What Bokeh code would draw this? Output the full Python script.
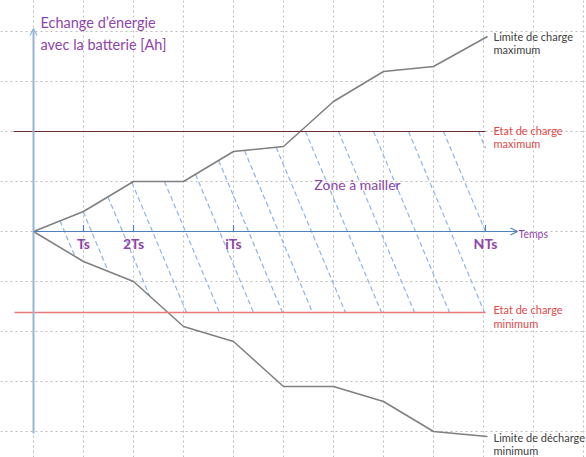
import numpy as np
from bokeh.plotting import figure
from bokeh.models import Arrow, OpenHead, Grid, FixedTicker, Range1d
from bokeh.core.properties import value
from bokeh.embed import file_html
from bokeh.resources import INLINE

# ---- data (time in units of Ts, energy in grid units) ----
t_steps = [0, 1, 2, 3, 4, 5, 6, 7, 8, 9.08]
limite_charge_max = [0, 0.4, 1.0, 1.0, 1.6, 1.7, 2.6, 3.2, 3.3, 3.9]
limite_decharge_min = [0, -0.6, -1.0, -1.9, -2.2, -3.1, -3.1, -3.4, -4.0, -4.1]
etat_charge_max = 2.0
etat_charge_min = -1.62
t_end = 9.04
tick_pos = [1, 2, 4, 9.04]
tick_labels = ["Ts", "2Ts", "iTs", "NTs"]
hatch_cross = [0.62, 1.16, 1.78, 2.38, 3.04, 3.72, 4.3, 4.9, 5.56, 6.28,
               6.94, 7.64, 8.34, 9.04, 9.74]
hatch_slope = 0.42
grid_x = list(range(0, 12))
grid_y = list(range(-4, 5))

PURPLE = "#8e44ad"
RED = "#e04848"
FONT = value("Lato")

p = figure(width=586, height=457, output_backend="svg", toolbar_location=None,
           x_range=Range1d(-0.66, 11.06), y_range=Range1d(-4.52, 4.62),
           x_axis_type=None, y_axis_type=None, min_border=0,
           outline_line_color=None)

for dim, ticks in ((0, grid_x), (1, grid_y)):
    p.add_layout(Grid(dimension=dim, ticker=FixedTicker(ticks=ticks),
                      grid_line_color="#bdbdbd", grid_line_dash="2 3",
                      grid_line_width=1))

# hatching of the zone
ys = np.linspace(-5, 5, 10001)
hx0, hy0, hx1, hy1 = [], [], [], []
for c in hatch_cross:
    x = c - hatch_slope * ys
    top = np.minimum(np.interp(x, t_steps, limite_charge_max), etat_charge_max)
    bot = np.maximum(np.interp(x, t_steps, limite_decharge_min), etat_charge_min)
    m = (ys <= top) & (ys >= bot) & (x >= 0) & (x <= t_end)
    if m.any():
        ya, yb = ys[m].max(), ys[m].min()
        hx0.append(c - hatch_slope * ya); hy0.append(ya)
        hx1.append(c - hatch_slope * yb); hy1.append(yb)
p.segment(hx0, hy0, hx1, hy1, line_color="#8db3e2", line_width=1.2,
          line_dash="5 3")

p.line(t_steps, limite_charge_max, line_color="#7f7f7f", line_width=1.5)
p.line(t_steps, limite_decharge_min, line_color="#7f7f7f", line_width=1.5)

p.segment([-0.4], [etat_charge_max], [t_end], [etat_charge_max],
          line_color="#6a3030", line_width=1)
p.segment([-0.38], [etat_charge_min], [t_end], [etat_charge_min],
          line_color="#ea7a7a", line_width=1.6)

# axes
p.add_layout(Arrow(x_start=0, y_start=-4.04, x_end=0, y_end=4.06,
                   line_color="#95b3d7", line_width=2,
                   end=OpenHead(size=7, line_color="#95b3d7", line_width=1.2)))
p.add_layout(Arrow(x_start=0, y_start=0, x_end=9.68, y_end=0,
                   line_color="#4f81bd", line_width=1.2,
                   end=OpenHead(size=7, line_color="#4f81bd", line_width=1.2)))
p.segment(tick_pos, [0] * len(tick_pos), tick_pos, [0.13] * len(tick_pos),
          line_color="#4f81bd", line_width=1.2)

p.text(tick_pos, [-0.24] * len(tick_pos), text=tick_labels, text_font=FONT,
       text_font_size="14px", text_color=PURPLE, text_align="center",
       text_baseline="middle", text_font_style="bold")
p.text([9.7], [-0.04], text=["Temps"], text_font=FONT, text_font_size="10.5px",
       text_color=PURPLE, text_align="left", text_baseline="middle")
p.text([6.48], [0.94], text=["Zone à mailler"], text_font=FONT,
       text_font_size="14px", text_color=PURPLE, text_align="center",
       text_baseline="middle")
p.text([0.14, 0.14], [4.18, 3.74],
       text=["Echange d’énergie", "avec la batterie [Ah]"], text_font=FONT,
       text_font_size="14.5px", text_color=PURPLE, text_align="left",
       text_baseline="alphabetic")

p.text([9.2, 9.2, 9.2, 9.2], [3.9, 3.64, -4.12, -4.38],
       text=["Limite de charge", "maximum", "Limite de décharge", "minimum"],
       text_font=FONT, text_font_size="11px", text_color="#404040",
       text_align="left", text_baseline="alphabetic")
p.text([9.2, 9.2, 9.2, 9.2], [2.02, 1.76, -1.56, -1.84],
       text=["Etat de charge", "maximum", "Etat de charge", "minimum"],
       text_font=FONT, text_font_size="11px", text_color=RED,
       text_align="left", text_baseline="alphabetic")

open("out.html", "w").write(file_html(p, INLINE))
